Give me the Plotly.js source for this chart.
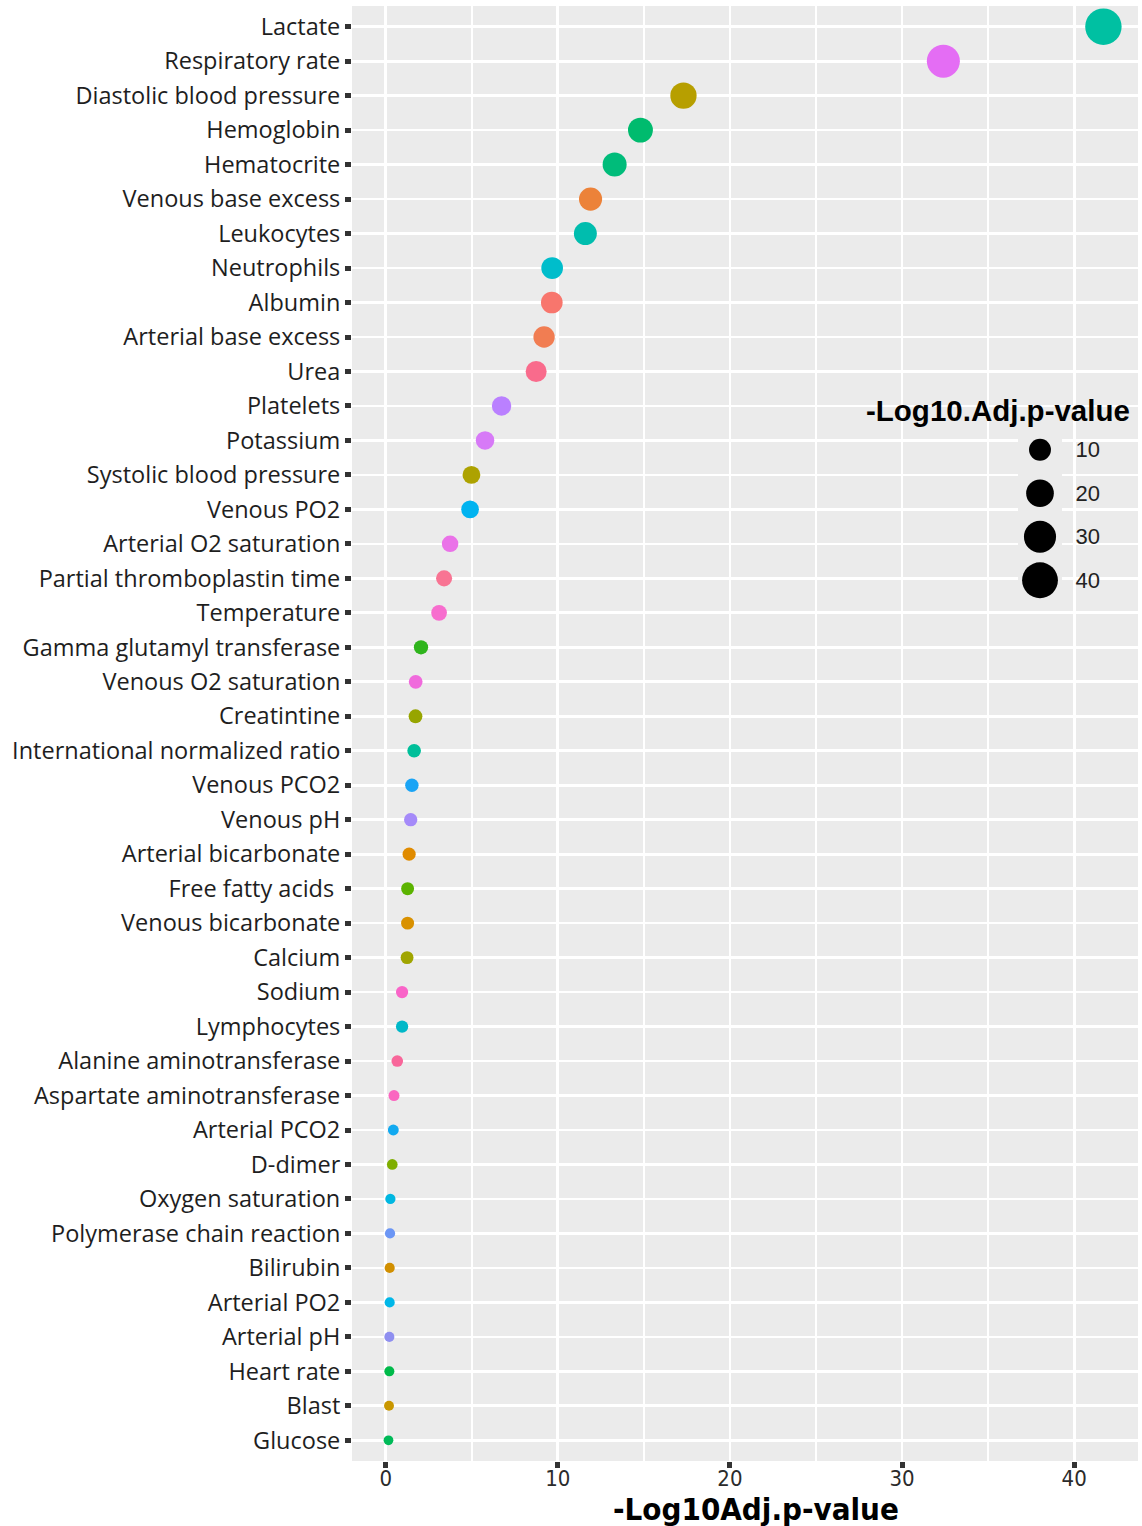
<!DOCTYPE html>
<html>
<head>
<meta charset="utf-8">
<script src="https://cdn.plot.ly/plotly-3.0.1.min.js"></script>
<style>
  html, body { margin: 0; padding: 0; background: #ffffff; }
  #chart { width: 1142px; height: 1526px; }
</style>
</head>
<body>
<div id="chart"></div>
<script>
// Categories, top to bottom
const categories = [
  "Lactate", "Respiratory rate", "Diastolic blood pressure", "Hemoglobin", "Hematocrite",
  "Venous base excess", "Leukocytes", "Neutrophils", "Albumin", "Arterial base excess",
  "Urea", "Platelets", "Potassium", "Systolic blood pressure", "Venous PO2",
  "Arterial O2 saturation", "Partial thromboplastin time", "Temperature", "Gamma glutamyl transferase", "Venous O2 saturation",
  "Creatintine", "International normalized ratio", "Venous PCO2", "Venous pH", "Arterial bicarbonate",
  "Free fatty acids\u00a0", "Venous bicarbonate", "Calcium", "Sodium", "Lymphocytes",
  "Alanine aminotransferase", "Aspartate aminotransferase", "Arterial PCO2", "D-dimer", "Oxygen saturation",
  "Polymerase chain reaction", "Bilirubin", "Arterial PO2", "Arterial pH", "Heart rate",
  "Blast", "Glucose"
];

// -Log10 adjusted p-values
const values = [
  41.7, 32.4, 17.3, 14.8, 13.3,
  11.9, 11.6, 9.67, 9.65, 9.2,
  8.74, 6.73, 5.77, 4.98, 4.9,
  3.74, 3.39, 3.1, 2.05, 1.74,
  1.73, 1.65, 1.52, 1.45, 1.36,
  1.27, 1.27, 1.24, 0.95, 0.95,
  0.67, 0.48, 0.44, 0.38, 0.27,
  0.25, 0.23, 0.23, 0.21, 0.21,
  0.19, 0.16
];

// Point colours (one per category)
const colors = [
  "#00C0A2", "#E46DF4", "#B79F00", "#00BB6E", "#00BC7A",
  "#EC8239", "#00BDAE", "#00BDCB", "#F8766D", "#F17D52",
  "#F96B8C", "#BA80FF", "#D77AF7", "#ADA200", "#00B3F0",
  "#EA72E8", "#F87493", "#F76DCE", "#2FB41C", "#F06ADC",
  "#97A500", "#00BF9A", "#1AA4F5", "#A58AF9", "#E08B00",
  "#5BB300", "#D99100", "#A0A500", "#F964C8", "#00B8C8",
  "#F8669A", "#FA67C0", "#11A9F0", "#7FAE00", "#00B7E1",
  "#6B96F5", "#D18F00", "#00B7E8", "#8F8FF0", "#00BA4A",
  "#C99700", "#00BA58"
];

// Size legend
const legendValues = [10, 20, 30, 40];
const legendLabels = ["10", "20", "30", "40"];
const legendTitle = "-Log10.Adj.p-value";
const xTitle = "-Log10Adj.p-value";

// size scale (area-like, as ggplot scale_size)
function sizeOf(v) { return 8 + 4.4 * Math.sqrt(v); }

const mainTrace = {
  type: "scatter",
  mode: "markers",
  x: values,
  y: categories,
  xaxis: "x",
  yaxis: "y",
  marker: {
    color: colors,
    size: values.map(sizeOf),
    opacity: 1,
    line: { width: 0 }
  },
  hoverinfo: "x+y",
  showlegend: false
};

const legendTrace = {
  type: "scatter",
  mode: "markers",
  x: legendValues.map(() => 0),
  y: legendValues,
  xaxis: "x2",
  yaxis: "y2",
  marker: {
    color: "#000000",
    size: legendValues.map(sizeOf),
    opacity: 1,
    line: { width: 0 }
  },
  hoverinfo: "y",
  showlegend: false
};

const W = 1142, H = 1526;
const mL = 352, mR = 4, mT = 6, mB = 65;
const pw = W - mL - mR, ph = H - mT - mB;
function px2paperX(p) { return (p - mL) / pw; }
function px2paperY(p) { return (H - mB - p) / ph; }

const condensed = "DejaVu Sans Condensed, Liberation Sans, Arial, sans-serif";

const layout = {
  width: W,
  height: H,
  margin: { l: mL, r: mR, t: mT, b: mB },
  paper_bgcolor: "#ffffff",
  plot_bgcolor: "#EBEBEB",
  showlegend: false,
  xaxis: {
    domain: [0, 1],
    range: [-1.96, 43.71],
    tickmode: "linear",
    tick0: 0,
    dtick: 10,
    ticks: "outside",
    ticklen: 6,
    tickwidth: 5,
    tickcolor: "#333333",
    ticklabelstandoff: -8,
    showgrid: true,
    gridcolor: "#ffffff",
    gridwidth: 2.7,
    zeroline: false,
    showline: false,
    minor: { tick0: 0, dtick: 5, showgrid: true, gridcolor: "#ffffff", gridwidth: 1.5, ticks: "" },
    tickfont: { family: condensed, size: 22, color: "#2b2b2b" },
    fixedrange: true
  },
  yaxis: {
    domain: [0, 1],
    type: "category",
    categoryorder: "array",
    categoryarray: categories,
    range: [41.6, -0.6],
    ticks: "outside",
    ticklen: 6,
    tickwidth: 5,
    tickcolor: "#333333",
    showgrid: true,
    gridcolor: "#ffffff",
    gridwidth: 2.7,
    zeroline: false,
    showline: false,
    tickfont: { family: "Open Sans", size: 23.5, color: "#1e1e1e" },
    fixedrange: true
  },
  xaxis2: {
    domain: [px2paperX(1018), px2paperX(1062)],
    anchor: "y2",
    range: [-1, 1],
    showgrid: false, zeroline: false, showline: false,
    showticklabels: false, ticks: "",
    fixedrange: true
  },
  yaxis2: {
    domain: [px2paperY(602), px2paperY(428)],
    anchor: "x2",
    side: "right",
    range: [45, 5],
    tickmode: "array",
    tickvals: legendValues,
    ticktext: legendLabels,
    ticks: "outside",
    ticklen: 8,
    tickcolor: "rgba(0,0,0,0)",
    showgrid: false, zeroline: false, showline: false,
    tickfont: { family: "Liberation Sans", size: 22, color: "#222222" },
    fixedrange: true
  },
  shapes: [
    {
      type: "rect",
      xref: "paper", yref: "paper",
      x0: px2paperX(1018), x1: px2paperX(1062),
      y0: px2paperY(602), y1: px2paperY(428),
      fillcolor: "#F2F2F2",
      line: { width: 0 },
      layer: "below"
    }
  ],
  annotations: [
    {
      text: "<b>" + legendTitle + "</b>",
      xref: "paper", yref: "paper",
      x: px2paperX(864), y: px2paperY(410),
      xanchor: "left", yanchor: "middle",
      showarrow: false,
      font: { family: "Liberation Sans", size: 29.5, color: "#000000" }
    },
    {
      text: "<b>" + xTitle + "</b>",
      xref: "paper", yref: "paper",
      x: px2paperX(756), y: px2paperY(1509),
      xanchor: "center", yanchor: "middle",
      showarrow: false,
      font: { family: condensed, size: 31, color: "#000000" }
    }
  ]
};

Plotly.newPlot("chart", [mainTrace, legendTrace], layout, { displayModeBar: false, staticPlot: true });
</script>
</body>
</html>
